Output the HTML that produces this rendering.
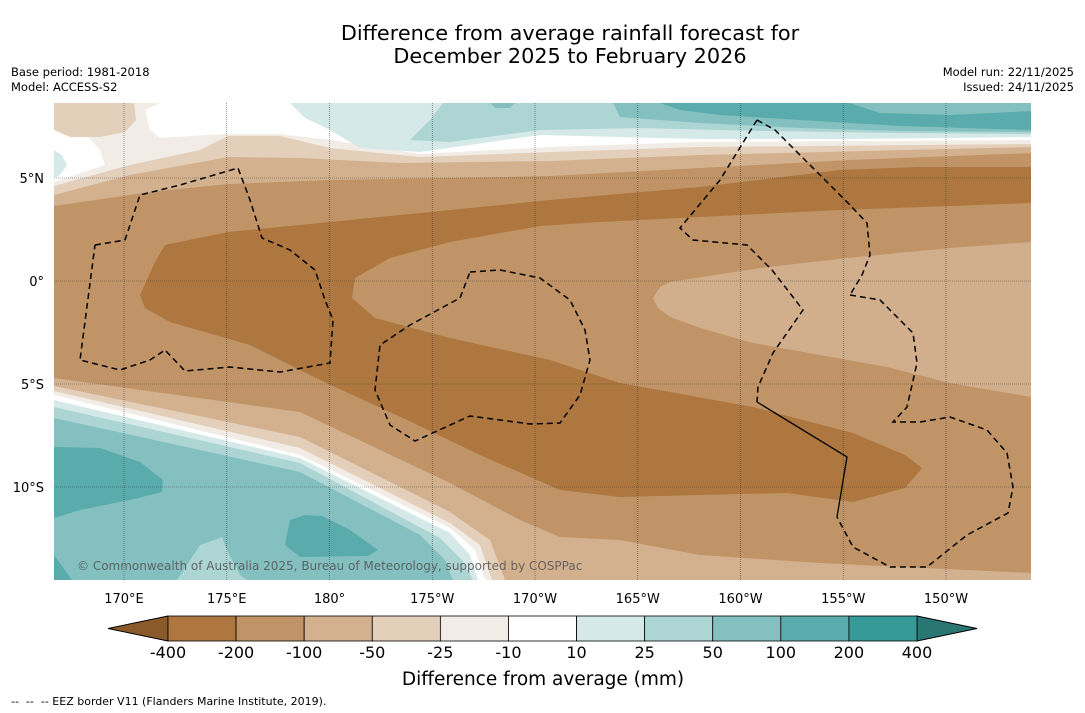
<!DOCTYPE html>
<html><head><meta charset="utf-8"><style>
html,body{margin:0;padding:0;background:#fff;}
body{width:1085px;height:713px;position:relative;overflow:hidden;font-family:"DejaVu Sans","Liberation Sans",sans-serif;}
.t{position:absolute;white-space:nowrap;color:#000;}
</style></head><body>
<div class="t" style="left:0;width:1140px;top:22px;text-align:center;font-size:20.8px;line-height:23px;">Difference from average rainfall forecast for<br>December 2025 to February 2026</div>
<div class="t" style="left:11px;top:65px;font-size:11.5px;line-height:15px;">Base period: 1981-2018<br>Model: ACCESS-S2</div>
<div class="t" style="right:11px;top:65px;font-size:11.5px;line-height:15px;text-align:right;">Model run: 22/11/2025<br>Issued: 24/11/2025</div>
<div class="t" style="left:11px;top:695px;font-size:11px;">--&nbsp; --&nbsp; -- EEZ border V11 (Flanders Marine Institute, 2019).</div>

<svg id="chart" width="1085" height="713" style="position:absolute;left:0;top:0" xmlns="http://www.w3.org/2000/svg">
<defs><clipPath id="mc"><rect x="54" y="103" width="977" height="477"/></clipPath></defs>
<g clip-path="url(#mc)">
<rect x="54" y="103" width="977" height="477" fill="#c09466"/>
<polygon fill="#d3b18f" points="54,103 1031,103 1031,153 850,160 700,168 550,176 450,178 330,180 228,184 150,192 54,206"/>
<polygon fill="#e4cfbb" points="54,103 1031,103 1031,147 700,155 550,161 400,163 300,158 228,157 130,175 54,195"/>
<polygon fill="#f2ece6" points="54,103 1031,103 1031,144 700,147 550,152 420,157 330,148 280,136 228,136 200,150 130,165 54,186"/>
<polygon fill="#ffffff" points="160,103 1031,103 1031,140 700,142 550,147 420,154 330,140 280,134 228,134 190,136 160,138 150,130 145,110"/>
<polygon fill="#ffffff" points="54,122 80,128 100,150 105,165 54,182"/>
<polygon fill="#e4cfbb" points="54,103 134,103 136,120 125,132 100,137 70,137 54,130"/>
<polygon fill="#d5e9e8" points="54,150 62,155 67,165 60,175 54,178"/>
<polygon fill="#d5e9e8" points="290,103 1031,103 1031,137 850,139 700,139 540,135 420,152 360,148 330,130 305,118"/>
<polygon fill="#acd5d4" points="443,103 1031,103 1031,134 900,133 760,131 640,128 540,130 450,142 410,140 430,120"/>
<polygon fill="#84c0c0" points="613,103 1031,103 1031,132 900,131 800,128 700,123 620,117"/>
<polygon fill="#5aabab" points="660,103 1031,103 1031,130 900,126 800,120 720,115 680,110"/>
<polygon fill="#84c0c0" points="850,103 1031,103 1031,111 950,115 880,113"/>
<polygon fill="#84c0c0" points="490,103 515,103 510,108 495,108"/>
<polygon fill="#ad773f" points="140,295 155,262 165,245 228,232 300,225 400,215 550,200 700,187 840,170 920,167 1031,167 1031,203 840,210 700,217 600,222 540,226 450,242 390,258 355,278 352,298 375,318 450,338 550,360 620,383 753,407 853,433 905,455 922,468 905,488 853,502 787,493 700,495 620,497 560,490 480,455 407,420 320,380 250,345 170,322 145,308"/>
<polygon fill="#d1ae8c" points="653,298 660,287 670,282 760,268 847,258 950,248 1031,242 1031,397 950,383 887,367 820,355 753,343 700,328 670,317 658,308"/>
<polygon fill="#d3b18f" points="54,378 300,412 450,483 520,520 560,537 620,540 700,555 820,563 1031,573 1031,580 54,580"/>
<polygon fill="#e4cfbb" points="54,386 300,437 450,512 490,540 505,580 54,580"/>
<polygon fill="#f2ece6" points="54,391 300,448 450,523 480,545 492,580 54,580"/>
<polygon fill="#ffffff" points="54,395 300,455 450,528 475,550 485,580 54,580"/>
<polygon fill="#d5e9e8" points="54,400 300,458 450,533 470,555 478,580 54,580"/>
<polygon fill="#acd5d4" points="54,407 300,463 440,538 462,560 473,580 54,580"/>
<polygon fill="#84c0c0" points="54,418 300,472 420,535 445,560 453,580 54,580"/>
<polygon fill="#5aabab" points="54,447 100,448 140,462 163,480 162,492 130,500 80,510 54,518"/>
<polygon fill="#5aabab" points="290,520 305,515 322,516 350,530 378,550 368,556 300,557 285,545"/>
<polygon fill="#acd5d4" points="177,580 200,545 222,537 226,548 240,575 247,580"/>
<polygon fill="#5aabab" points="54,555 72,580 54,580"/>
<g id="grid" stroke="#333" stroke-width="0.6" stroke-dasharray="1,1" opacity="0.8"></g>
<g fill="none" stroke="#000" stroke-width="1.5" stroke-dasharray="6,4">
<polyline points="95,245 125,240 140,195 180,185 238,168 250,200 262,238 290,250 315,270 325,300 333,320 330,363 280,372 230,367 185,371 165,350 150,360 120,370 80,360 95,245"/>
<polyline points="470,272 500,270 540,278 570,300 585,330 590,360 580,395 560,423 530,424 470,416 415,441 390,425 375,390 380,345 410,325 460,298 470,272"/>
<polyline points="757,120 720,180 680,228 693,240 747,245 772,270 803,310 773,353 758,387 757,402"/>
<polyline points="757,120 775,130 820,175 850,205 867,223 870,255 862,275 850,295"/>
<polyline points="850,295 880,300 913,333 917,363 907,407 893,422 920,422 950,417 987,430 1007,453 1013,487 1008,513 967,535 927,567 890,567 853,547 837,517"/>
<polyline stroke-dasharray="none" stroke-width="1.3" points="757,402 847,457 837,517"/>
</g>
<text x="77" y="570" font-size="12" fill="#555" opacity="0.85" font-family="DejaVu Sans, Liberation Sans, sans-serif">© Commonwealth of Australia 2025, Bureau of Meteorology, supported by COSPPac</text>
</g>
<g id="axes" font-size="13" font-family="DejaVu Sans, Liberation Sans, sans-serif"></g>
<g id="cbar"></g>
<text x="543" y="685" font-size="18.5" text-anchor="middle" font-family="DejaVu Sans, Liberation Sans, sans-serif">Difference from average (mm)</text>
</svg>
<script>
const lonLabels = ["170°E","175°E","180°","175°W","170°W","165°W","160°W","155°W","150°W"];
const lonValues = [170,175,180,185,190,195,200,205,210];
const latLabels = ["5°N","0°","5°S","10°S"];
const latValues = [5,0,-5,-10];
const cbLevels = ["-400","-200","-100","-50","-25","-10","10","25","50","100","200","400"];
const cbColors = ["#ad773f","#c09466","#d3b18f","#e4cfbb","#f2ece6","#ffffff","#d5e9e8","#acd5d4","#84c0c0","#5aabab","#369a98"];
const NS="http://www.w3.org/2000/svg";
const xLon = v => 124 + (v-170)*20.55;
const yLat = v => 281 - v*20.6;
function mk(tag, attrs){const e=document.createElementNS(NS,tag);for(const k in attrs)e.setAttribute(k,attrs[k]);return e;}
const grid=document.getElementById('grid'), axes=document.getElementById('axes');
lonValues.forEach((v,i)=>{
  const l=mk('line',{x1:xLon(v),x2:xLon(v),y1:103,y2:580});
  
  
  grid.appendChild(l);
  const t=mk('text',{x:xLon(v),y:603,'text-anchor':'middle'});
  
  
  t.textContent=lonLabels[i];axes.appendChild(t);
});
latValues.forEach((v,i)=>{
  const l=mk('line',{x1:54,x2:1031,y1:yLat(v),y2:yLat(v)});
  
  
  grid.appendChild(l);
  const t=mk('text',{x:44,y:yLat(v)+5,'text-anchor':'end'});
  
  
  t.textContent=latLabels[i];axes.appendChild(t);
});
const cb=document.getElementById('cbar');
const x0=168, w=(917-168)/cbColors.length, y0=616, h=25;
const lt=mk('polygon',{points:`108,${y0+h/2} ${x0},${y0} ${x0},${y0+h}`,fill:'#8b5a2b',stroke:'#000','stroke-width':1});


cb.appendChild(lt);
const rt=mk('polygon',{points:`977,${y0+h/2} 917,${y0} 917,${y0+h}`,fill:'#2a7673',stroke:'#000','stroke-width':1});


cb.appendChild(rt);
cbColors.forEach((c,i)=>{
  const r=mk('rect',{x:x0+i*w,y:y0,width:w,height:h,fill:c,stroke:'#000','stroke-width':0.8});
  
  
  cb.appendChild(r);
});
cbLevels.forEach((s,i)=>{
  const t=mk('text',{x:x0+i*w,y:658,'text-anchor':'middle','font-size':16,'font-family':'DejaVu Sans, Liberation Sans, sans-serif'});
  
  
  t.textContent=s;cb.appendChild(t);
});
</script>
</body></html>
